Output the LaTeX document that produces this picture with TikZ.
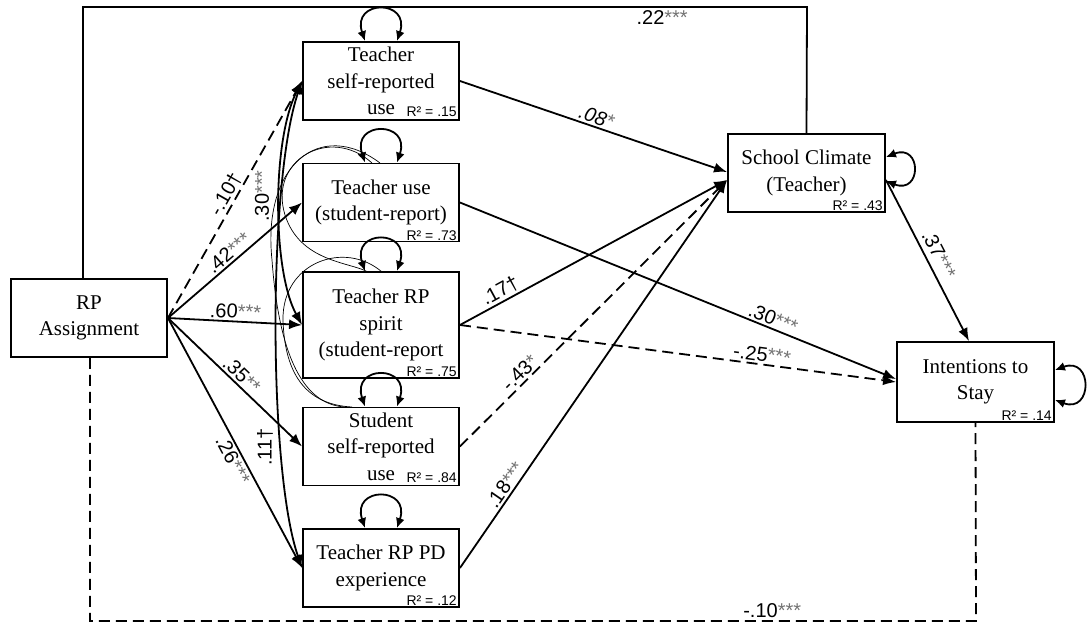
\documentclass[tikz,border=0pt]{standalone}
\usepackage{fontspec}
\setmainfont{Liberation Serif}
\newfontfamily\lblfont{Liberation Sans}
\usetikzlibrary{arrows.meta}
\newcommand{\sig}[1]{\textcolor{black!55}{#1}}
\begin{document}
\begin{tikzpicture}[x=1pt,y=-1pt,
 box/.style={draw, line width=1.9pt, minimum width=156pt, minimum height=78pt, inner sep=0pt, align=center, font=\fontsize{21}{26.5}\selectfont},
 rsq/.style={anchor=south east, inner sep=1pt, font=\lblfont\fontsize{14}{14}\selectfont},
 arr/.style={line width=1.8pt, -{Latex[length=13pt,width=10pt]}},
 darr/.style={arr, dash pattern=on 11pt off 6pt},
 cov/.style={line width=1.8pt, {Latex[length=13pt,width=10pt]}-{Latex[length=13pt,width=10pt]}},
 thinc/.style={line width=0.7pt},
 loopa/.style={line width=1.8pt, {Latex[length=10pt,width=9pt]}-{Latex[length=10pt,width=9pt]}},
 coef/.style={font=\lblfont\fontsize{20}{20}\selectfont, inner sep=2pt},
]
\useasboundingbox (0,0) rectangle (1089,623);

% boxes
\node[box] (RP) at (89,318) {RP\\Assignment};
\node[box] (TSR) at (381,81) {Teacher\\self-reported\\use};
\node[box] (TU) at (381,202.5) {Teacher use\\(student-report)};
\node[box, minimum height=106pt] (TS) at (381,325) {Teacher RP\\spirit\\(student-report};
\node[box] (SSR) at (381,446.5) {Student\\self-reported\\use};
\node[box] (PD) at (381,568) {Teacher RP PD\\experience};
\node[box, minimum width=157pt] (SC) at (806.5,173) {School Climate\\(Teacher)};
\node[box, minimum width=157pt, minimum height=80pt] (IS) at (975.5,382) {Intentions to\\Stay};

% R squared
\node[rsq] (r1) at ([xshift=-2pt,yshift=3pt]TSR.south east) {R² = .15};
\node[rsq] (r2) at ([xshift=-2pt,yshift=1pt]TU.south east) {R² = .73};
\node[rsq] (r3) at ([xshift=-2pt,yshift=1pt]TS.south east) {R² = .75};
\node[rsq] (r4) at ([xshift=-2pt,yshift=3pt]SSR.south east) {R² = .84};
\node[rsq] (r5) at ([xshift=-2pt,yshift=1pt]PD.south east) {R² = .12};
\node[rsq] (r6) at ([xshift=-2pt,yshift=1pt]SC.south east) {R² = .43};
\node[rsq] (r7) at ([xshift=-2pt,yshift=1pt]IS.south east) {R² = .14};

% frame connectors
\coordinate (t1) at (83,7);
\coordinate (t2) at (807,7);
\draw[line width=1.8pt] ([xshift=-6pt]RP.north) -- (t1) -- (t2)
  node[coef, pos=0.8, below, yshift=-1pt] {.22\sig{***}} -- (SC.north);
\coordinate (b1) at (90,621);
\coordinate (b2) at (976,621);
\draw[line width=1.8pt, dash pattern=on 11pt off 6pt] ([xshift=1pt]RP.south) -- (b1) -- (b2)
  node[coef, pos=0.77, above] {-.10\sig{***}} -- (IS.south);

% thin covariances
\draw[thinc] (372,163) .. controls (330,125) and (268,160) .. (285,215) .. controls (300,262) and (350,262) .. (368,272);
\draw[thinc] (380,163) .. controls (320,118) and (262,165) .. (272,260) .. controls (280,370) and (310,405) .. (345,407);
\draw[thinc] (382,272) .. controls (345,240) and (282,262) .. (283,320) .. controls (285,385) and (315,405) .. (352,407);

% thick covariances
\draw[cov] (TSR.west) .. controls (272,140) and (272,270) .. (TS.west);
\node[coef, rotate=90] (l30) at (262,196) {.30\sig{***}};
\draw[cov] (TSR.west) .. controls (268,180) and (268,470) .. (PD.west);
\node[coef, rotate=90] (l11) at (265,447) {.11†};

% paths from RP
\draw[darr] (RP.east) -- (TSR.west) node[coef, sloped, above, pos=0.5] {-.10†};
\draw[arr] (RP.east) -- (TU.west) node[coef, sloped, above, pos=0.5] {.42\sig{***}};
\draw[arr] (RP.east) -- (TS.west) node[coef, sloped, above, pos=0.5] {.60\sig{***}};
\draw[arr] (RP.east) -- (SSR.west) node[coef, sloped, above, pos=0.5] {.35\sig{**}};
\draw[arr] (RP.east) -- (PD.west) node[coef, sloped, below, pos=0.55] {.26\sig{***}};

% paths to school climate
\draw[arr] (TSR.east) -- ([yshift=1pt]SC.west) node[coef, sloped, above, pos=0.5] {\itshape .08\sig{*}};
\draw[arr] (TS.east) -- ([yshift=-7pt]SC.west) node[coef, sloped, above, pos=0.17] {.17†};
\draw[darr] (SSR.east) -- ([yshift=-7pt]SC.west) node[coef, sloped, above, pos=0.25] {-.43\sig{*}};
\draw[arr] (PD.east) -- ([yshift=-7pt]SC.west) node[coef, sloped, above, pos=0.2] {.18\sig{***}};

% paths to intentions
\draw[arr] (TU.east) -- ([yshift=3pt]IS.west) node[coef, sloped, above, pos=0.71] {.30\sig{***}};
\draw[darr] (TS.east) -- (IS.west) node[coef, sloped, above, pos=0.69] {-.25\sig{***}};
\draw[arr] ([yshift=-7pt]SC.east) -- ([xshift=-6.5pt]IS.north) node[coef, sloped, above=3pt, pos=0.5] {.37\sig{***}};

% self loops
\foreach \b in {TSR,TU,TS,SSR,PD}{
  \draw[loopa] ([xshift=-16pt]\b.north) .. controls +(-14,-42) and +(14,-42) .. ([xshift=16pt]\b.north);
}
\draw[loopa] ([yshift=16pt]SC.east) .. controls +(36,-14) and +(36,14) .. ([yshift=-8pt]SC.east);
\draw[loopa] ([yshift=12pt]IS.east) .. controls +(38,-14) and +(38,14) .. ([yshift=-18pt]IS.east);
\end{tikzpicture}
\end{document}
